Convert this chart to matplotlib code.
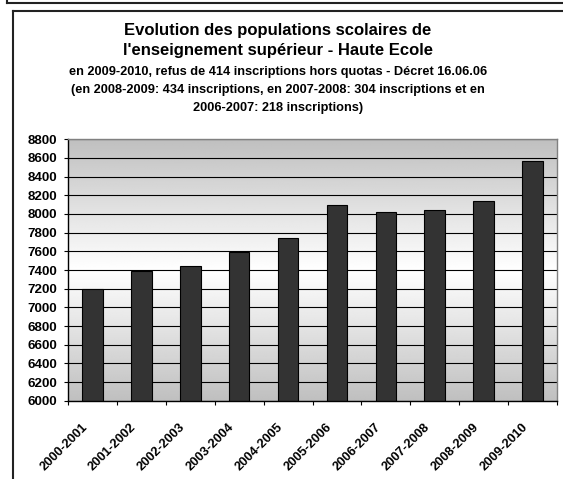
import matplotlib
matplotlib.use("Agg")
import matplotlib.pyplot as plt
from matplotlib.lines import Line2D
import numpy as np

categories = ["2000-2001", "2001-2002", "2002-2003", "2003-2004", "2004-2005",
              "2005-2006", "2006-2007", "2007-2008", "2008-2009", "2009-2010"]
values = [7195, 7393, 7440, 7592, 7738, 8094, 8016, 8048, 8140, 8565]
yticks = list(range(6000, 8801, 200))

title_lines = ["Evolution des populations scolaires de",
               "l'enseignement supérieur - Haute Ecole"]
sub_lines = ["en 2009-2010, refus de 414 inscriptions hors quotas - Décret 16.06.06",
             "(en 2008-2009: 434 inscriptions, en 2007-2008: 304 inscriptions et en",
             "2006-2007: 218 inscriptions)"]

plt.rcParams['font.family'] = ['Liberation Sans', 'DejaVu Sans']
plt.rcParams['font.weight'] = 'bold'

W, H = 563, 479
fig = plt.figure(figsize=(W / 100, H / 100), dpi=100)
fig.patch.set_facecolor('white')

def fx(x):
    return x / W

def fy(y):
    return 1 - y / H

ax = fig.add_axes([fx(68), fy(400.7), fx(557) - fx(68), fy(139.3) - fy(400.7)])

# gradient background (gray -> white -> gray)
t = np.linspace(0, 1, 256)
g = 1 - np.abs(t - 0.5) * 2 * 0.25
grad = np.repeat(g[:, None], 2, axis=1)
ax.imshow(grad, cmap='gray', vmin=0, vmax=1, extent=[0, 1, 0, 1],
          transform=ax.transAxes, aspect='auto', zorder=0, interpolation='bilinear')

x = np.arange(len(categories))
ax.bar(x, values, width=0.42, color='#333333', edgecolor='black', linewidth=0.8,
       zorder=2)

ax.set_xlim(-0.5, len(categories) - 0.5)
ax.set_ylim(6000, 8800)

ax.set_yticks(yticks)
ax.set_yticklabels([str(v) for v in yticks], fontsize=9.6, fontweight='bold')
ax.yaxis.grid(True, color='black', linewidth=0.8, zorder=0.5)
ax.set_axisbelow(True)
ax.tick_params(axis='y', length=3, width=0.8, pad=5, direction='out')

# category labels (shifted so rotated text ends left of the category centre)
ax.set_xticks(x - 0.23)
ax.set_xticklabels(categories, fontsize=9.3, fontweight='bold', rotation=45,
                   ha='right', va='top', rotation_mode='anchor')
ax.tick_params(axis='x', which='major', length=0, pad=14.4)
ax.set_xticks(np.arange(-0.5, len(categories), 1.0), minor=True)
ax.tick_params(axis='x', which='minor', length=3, width=0.8, direction='out')

for s in ['left', 'bottom']:
    ax.spines[s].set_color('black')
    ax.spines[s].set_linewidth(1.0)
for s in ['top', 'right']:
    ax.spines[s].set_color('#808080')
    ax.spines[s].set_linewidth(1.0)

# titles
cx = fx(278)
for line, yb in zip(title_lines, [35, 55]):
    fig.text(cx, fy(yb), line, ha='center', va='baseline', fontsize=12,
             fontweight='bold', color='black')
for line, yb in zip(sub_lines, [75.3, 93.3, 110.7]):
    fig.text(cx, fy(yb), line, ha='center', va='baseline', fontsize=9.2,
             fontweight='bold', color='black')

# frames
fig.add_artist(Line2D([fx(7), fx(W)], [fy(3), fy(3)], color='#222222', linewidth=1.5,
                      transform=fig.transFigure))
fig.add_artist(Line2D([fx(7), fx(7)], [fy(-2), fy(3)], color='#222222', linewidth=1.5,
                      transform=fig.transFigure))
fig.add_artist(Line2D([fx(13), fx(W)], [fy(11), fy(11)], color='#222222', linewidth=1.5,
                      transform=fig.transFigure))
fig.add_artist(Line2D([fx(13), fx(13)], [fy(11), fy(H + 2)], color='#222222', linewidth=1.5,
                      transform=fig.transFigure))

fig.savefig("out.png", dpi=100, facecolor='white')
